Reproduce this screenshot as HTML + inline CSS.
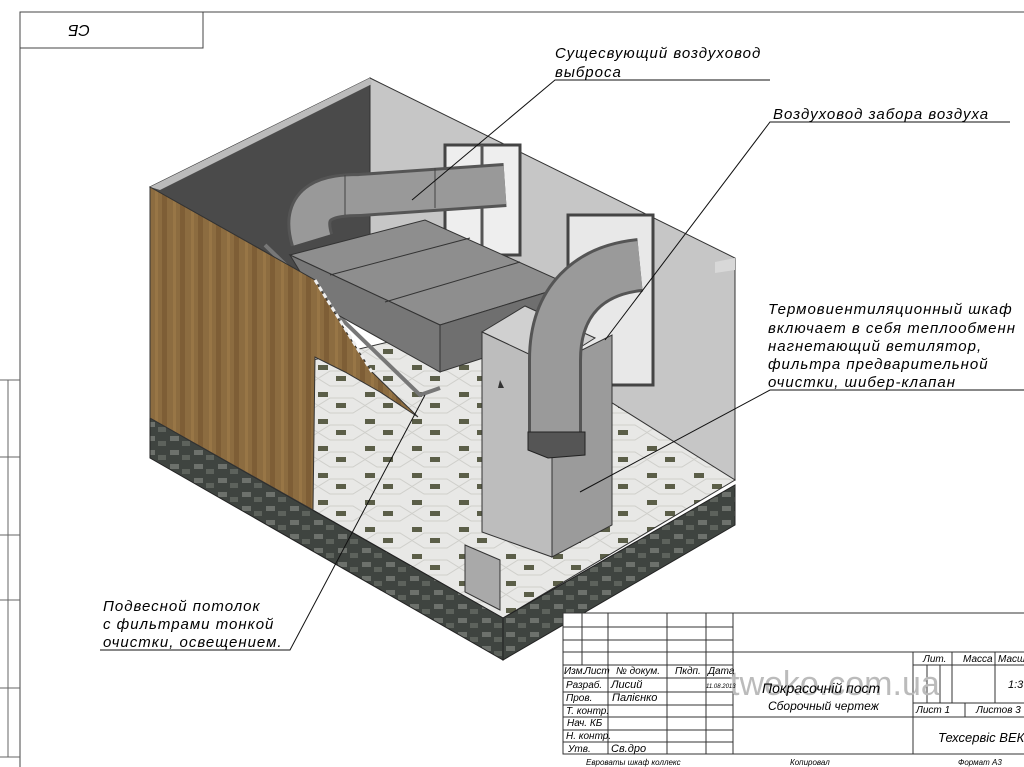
<!DOCTYPE html>
<html><head><meta charset="utf-8"><style>
html,body{margin:0;padding:0;background:#fff}
svg{display:block}
text{font-family:"Liberation Sans","DejaVu Sans",sans-serif}
.lb{font-style:italic;font-size:15px;letter-spacing:1px}
.tb{font-style:italic;font-size:10px}
</style></head><body>
<svg width="1024" height="767" viewBox="0 0 1024 767" xmlns="http://www.w3.org/2000/svg">
<defs>
<pattern id="tile" width="47" height="27" patternUnits="userSpaceOnUse" patternTransform="translate(318,365)">
<rect width="47" height="27" fill="#e8e8e6"/>
<path d="M0 13.5 L12 6 L35 6 L47 13.5 M0 13.5 L12 21 L35 21 L47 13.5" stroke="#cfcfcb" fill="none"/>
<rect x="0" y="0" width="10" height="5" fill="#5b5e48"/>
<rect x="18" y="11" width="10" height="5" fill="#5b5e48"/>
</pattern>
<pattern id="wood" width="18" height="30" patternUnits="userSpaceOnUse">
<rect width="18" height="30" fill="#8c6c40"/>
<rect x="0" width="5" height="30" fill="#7e5e36"/>
<rect x="11" width="3" height="30" fill="#987646"/>
</pattern>
<pattern id="stone" width="24" height="14" patternUnits="userSpaceOnUse">
<rect width="24" height="14" fill="#3f4440"/>
<rect x="2" y="2" width="9" height="5" fill="#6d716c"/>
<rect x="14" y="7" width="8" height="5" fill="#5d625c"/>
</pattern>
</defs>
<line x1="20" y1="12" x2="1024" y2="12" stroke="#444"/>
<line x1="20" y1="12" x2="20" y2="767" stroke="#444"/>
<line x1="8" y1="380" x2="8" y2="757" stroke="#666"/>
<g stroke="#666"><line x1="0" y1="380" x2="20" y2="380"/><line x1="0" y1="457" x2="20" y2="457"/><line x1="0" y1="535" x2="20" y2="535"/><line x1="0" y1="600" x2="20" y2="600"/><line x1="0" y1="688" x2="20" y2="688"/><line x1="0" y1="757" x2="20" y2="757"/></g>
<rect x="20" y="12" width="183" height="36" fill="none" stroke="#444"/>
<text x="110" y="37" font-size="16" font-style="italic" transform="rotate(180 100 31)">СБ</text>

<polygon points="370,78 735,258 735,480 370,300" fill="#c6c6c6" stroke="#333"/>
<polygon points="715,262 735,258 735,270 715,273" fill="#d8d8d8"/>
<polygon points="150,187 370,78 370,300 315,280" fill="#4a4a4a" stroke="#333"/>
<polygon points="150,187 370,78 372,84 160,190" fill="#bbb"/>
<rect x="445" y="145" width="75" height="110" fill="#eee" stroke="#444" stroke-width="3"/>
<rect x="568" y="215" width="85" height="170" fill="#e8e8e8" stroke="#444" stroke-width="3"/>
<line x1="482" y1="145" x2="482" y2="255" stroke="#555" stroke-width="3"/>
<polygon points="313,360 480,320 735,480 503,618 313,510" fill="url(#tile)" stroke="#333"/>
<polygon points="150,418 503,618 503,660 150,458" fill="url(#stone)" stroke="#222"/>
<polygon points="503,618 735,485 735,525 503,660" fill="url(#stone)" stroke="#222"/>
<polygon points="465,545 500,560 500,610 465,592" fill="#a9a9a9" stroke="#333"/>
<polyline points="265,245 420,395 440,388" fill="none" stroke="#777" stroke-width="4"/>
<polygon points="290,255 425,220 570,285 440,325" fill="#8e8e8e" stroke="#333"/>
<polygon points="290,255 440,325 440,372 320,305" fill="#777" stroke="#333"/>
<polygon points="440,325 570,285 570,330 440,372" fill="#6f6f6f" stroke="#333"/>
<line x1="330" y1="275" x2="470" y2="238" stroke="#333"/>
<line x1="385" y1="302" x2="520" y2="262" stroke="#333"/>
<path d="M312 240 C300 200 330 195 360 195 L505 185" fill="none" stroke="#555" stroke-width="44"/>
<path d="M312 240 C300 200 330 195 360 195 L505 185" fill="none" stroke="#999" stroke-width="38"/>
<line x1="345" y1="175" x2="345" y2="215" stroke="#444"/><line x1="435" y1="168" x2="435" y2="208" stroke="#444"/>
<polygon points="150,187 315,280 345,330 372,372 418,417 380,392 345,372 315,357 313,510 150,418" fill="url(#wood)" stroke="#333"/>
<line x1="315" y1="280" x2="372" y2="372" stroke="#eee" stroke-width="3" stroke-dasharray="5,3"/>
<polygon points="482,332 525,306 595,338 552,365" fill="#d0d0d0" stroke="#333"/>
<polygon points="482,332 552,365 552,557 482,532" fill="#bdbdbd" stroke="#333"/>
<polygon points="552,365 612,335 612,525 552,557" fill="#9b9b9b" stroke="#333"/>
<path d="M500 380 l4 8 l-6 0z" fill="#333"/>
<path d="M555 440 L555 360 C555 300 590 270 640 265" fill="none" stroke="#555" stroke-width="54"/>
<path d="M555 440 L555 360 C555 300 590 270 640 265" fill="none" stroke="#9a9a9a" stroke-width="48"/>
<polygon points="528,432 585,432 585,455 548,458 528,450" fill="#555" stroke="#222"/>
<g stroke="#111" fill="none" stroke-width="1">
<polyline points="770,80 555,80 412,200"/>
<polyline points="1010,122 770,122 605,340"/>
<polyline points="1024,390 770,390 580,492"/>
<polyline points="100,650 290,650 425,395"/>
</g>
<text class="lb" x="555" y="58">Сущесвующий воздуховод</text>
<text class="lb" x="555" y="77">выброса</text>
<text class="lb" x="773" y="119">Воздуховод забора воздуха</text>
<text class="lb" x="768" y="314">Термовиентиляционный шкаф</text>
<text class="lb" x="768" y="333">включает в себя теплообменн</text>
<text class="lb" x="768" y="351">нагнетающий ветилятор,</text>
<text class="lb" x="768" y="369">фильтра предварительной</text>
<text class="lb" x="768" y="387">очистки, шибер-клапан</text>
<text class="lb" x="103" y="611">Подвесной потолок</text>
<text class="lb" x="103" y="629">с фильтрами тонкой</text>
<text class="lb" x="103" y="647">очистки, освещением.</text>
<g stroke="#333" fill="none" stroke-width="1">
<rect x="563" y="613" width="470" height="141" fill="#fff"/>
<line x1="563" y1="627" x2="733" y2="627"/><line x1="563" y1="640" x2="733" y2="640"/>
<line x1="563" y1="652" x2="1024" y2="652"/><line x1="563" y1="665" x2="733" y2="665"/>
<line x1="913" y1="665" x2="1024" y2="665"/>
<line x1="563" y1="678" x2="733" y2="678"/><line x1="563" y1="692" x2="733" y2="692"/>
<line x1="563" y1="705" x2="733" y2="705"/><line x1="913" y1="703" x2="1024" y2="703"/>
<line x1="563" y1="717" x2="1024" y2="717"/><line x1="563" y1="730" x2="733" y2="730"/>
<line x1="563" y1="742" x2="733" y2="742"/>
<line x1="582" y1="613" x2="582" y2="665"/><line x1="608" y1="613" x2="608" y2="754"/>
<line x1="667" y1="613" x2="667" y2="754"/><line x1="706" y1="613" x2="706" y2="754"/>
<line x1="733" y1="613" x2="733" y2="754"/><line x1="913" y1="652" x2="913" y2="754"/>
<line x1="927" y1="665" x2="927" y2="703"/><line x1="940" y1="665" x2="940" y2="703"/>
<line x1="952" y1="652" x2="952" y2="703"/><line x1="995" y1="652" x2="995" y2="703"/>
<line x1="965" y1="703" x2="965" y2="717"/>
</g>
<text x="730" y="695" font-size="34" font-family="Liberation Serif" fill="#bbb">tweko.com.ua</text>
<g class="tb">
<text x="564" y="674">Изм.</text><text x="584" y="674">Лист</text><text x="616" y="674">№ докум.</text><text x="675" y="674">Пкдп.</text><text x="708" y="674">Дата</text>
<text x="566" y="688">Разраб.</text><text x="611" y="688" font-size="11">Лисий</text><text x="706" y="688" font-size="6">11.08.2013</text>
<text x="566" y="701">Пров.</text><text x="612" y="701" font-size="11">Палієнко</text>
<text x="566" y="714">Т. контр.</text><text x="567" y="726">Нач. КБ</text><text x="566" y="739">Н. контр.</text>
<text x="568" y="752">Утв.</text><text x="611" y="752" font-size="11">Св.дро</text>
<text x="923" y="662">Лит.</text><text x="963" y="662">Масса</text><text x="998" y="662">Масш</text>
<text x="1008" y="688" font-size="11">1:3</text>
<text x="916" y="713">Лист 1</text><text x="976" y="713">Листов 3</text>
<text x="586" y="765" font-size="8">Евроваты шкаф коллекс</text><text x="790" y="765" font-size="8">Копировал</text><text x="958" y="765" font-size="8">Формат А3</text>
</g>
<text x="762" y="693" font-size="14" font-style="italic">Покрасочній пост</text>
<text x="768" y="710" font-size="12" font-style="italic">Сборочный чертеж</text>
<text x="938" y="742" font-size="13" font-style="italic">Техсервіс ВЕКО</text>
</svg>
</body></html>
